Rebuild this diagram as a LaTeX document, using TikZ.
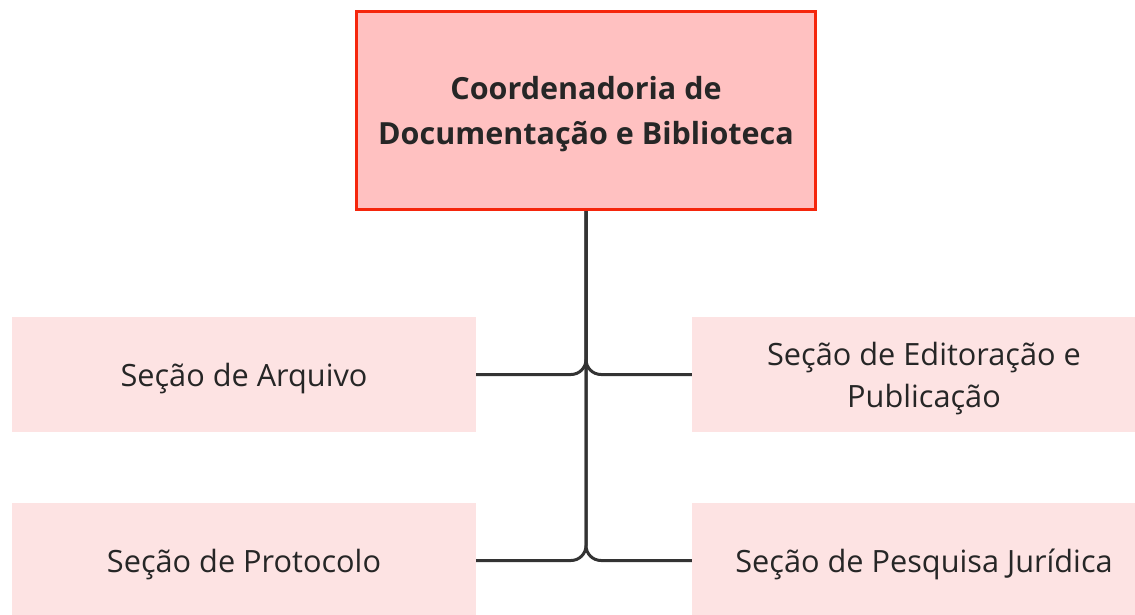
\documentclass[tikz,border=0pt]{standalone}
\usepackage{fontspec}
\setmainfont{Open Sans}
\definecolor{topfill}{HTML}{FFC1C1}
\definecolor{topdraw}{HTML}{F5260C}
\definecolor{subfill}{HTML}{FDE3E3}
\definecolor{txt}{HTML}{262626}
\definecolor{conn}{HTML}{333333}
\tikzset{
  topbox/.style={draw=topdraw, fill=topfill, line width=3pt, minimum width=459pt, minimum height=198pt, inner sep=0pt, align=center, text=txt, text depth=0pt, font=\fontsize{30.5}{45}\selectfont\bfseries},
  subbox/.style={fill=subfill, minimum width=464pt, minimum height=115pt, inner sep=0pt, align=center, text=txt, text depth=0pt, font=\fontsize{30.7}{42}\selectfont},
  link/.style={draw=conn, line width=3pt, rounded corners=15pt}
}
\begin{document}
\begin{tikzpicture}[x=1pt,y=-1pt]
\useasboundingbox (0,0) rectangle (1135,615);
\node[topbox] (top) at (586,110.5) {Coordenadoria de\\Documentação e Biblioteca};
\node[subbox] (arq) at (244,374.5) {Seção de Arquivo};
\node[subbox] (edit) at (924,374.5) {Seção de Editoração e\\Publicação};
\node[subbox] (prot) at (244,560.5) {Seção de Protocolo};
\node[subbox] (pesq) at (924,560.5) {Seção de Pesquisa Jurídica};
\draw[link] (top.south) |- (arq.east);
\draw[link] (top.south) |- (edit.west);
\draw[link] (top.south) |- (prot.east);
\draw[link] (top.south) |- (pesq.west);
\end{tikzpicture}
\end{document}
